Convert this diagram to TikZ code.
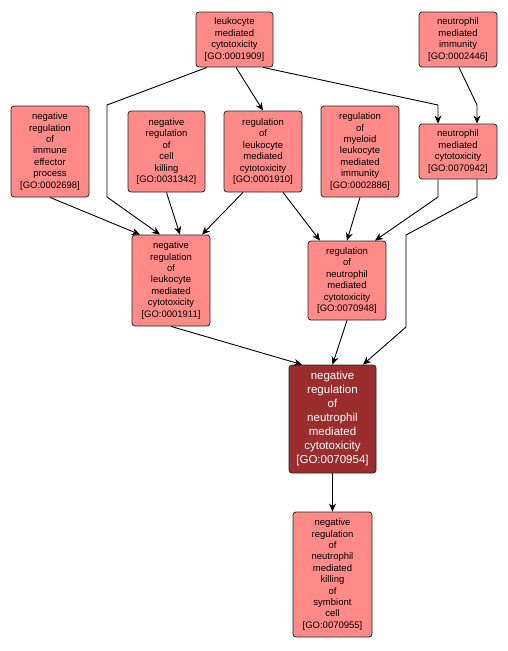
\documentclass[tikz,border=0pt]{standalone}
\usepackage{fontspec}
\setmainfont{Liberation Sans}
\usetikzlibrary{arrows.meta}
\definecolor{termpink}{RGB}{255,138,135}
\definecolor{termdark}{RGB}{155,45,45}
\begin{document}
\begin{tikzpicture}[x=1pt,y=-1pt,
	term/.style={draw=black!85,line width=0.8pt,fill=termpink,rounded corners=3pt,align=center,inner sep=1pt,font=\fontsize{9.5}{11.4}\selectfont},
	focus/.style={term,fill=termdark,text=white,font=\fontsize{11.5}{14}\selectfont},
	isa/.style={-{Stealth[length=8pt,width=7pt,inset=2.5pt]},black,line width=0.9pt}]
	\useasboundingbox (0,0) rectangle (507,651); %page
	\node[term,minimum width=77,minimum height=55] (t1909) at (234.5,39.5) {leukocyte\\mediated\\cytotoxicity\\{[}GO:0001909{]}}; %top middle
	\node[term,minimum width=78,minimum height=55] (t2446) at (458,39.5) {neutrophil\\mediated\\immunity\\{[}GO:0002446{]}}; %top right
	\node[term,minimum width=78,minimum height=91] (t2698) at (50,151.5) {negative\\regulation\\of\\immune\\effector\\process\\{[}GO:0002698{]}}; %second row
	\node[term,minimum width=77,minimum height=81] (t31342) at (166.5,151.5) {negative\\regulation\\of\\cell\\killing\\{[}GO:0031342{]}};
	\node[term,minimum width=78,minimum height=81] (t1910) at (263,151.5) {regulation\\of\\leukocyte\\mediated\\cytotoxicity\\{[}GO:0001910{]}};
	\node[term,minimum width=78,minimum height=91] (t2886) at (360,151.5) {regulation\\of\\myeloid\\leukocyte\\mediated\\immunity\\{[}GO:0002886{]}};
	\node[term,minimum width=78,minimum height=55] (t70942) at (458,151.5) {neutrophil\\mediated\\cytotoxicity\\{[}GO:0070942{]}};
	\node[term,minimum width=78,minimum height=91] (t1911) at (171,280.5) {negative\\regulation\\of\\leukocyte\\mediated\\cytotoxicity\\{[}GO:0001911{]}}; %third row
	\node[term,minimum width=78,minimum height=79] (t70948) at (347,280.5) {regulation\\of\\neutrophil\\mediated\\cytotoxicity\\{[}GO:0070948{]}};
	\node[focus,minimum width=87,minimum height=108] (t70954) at (332.5,419) {negative\\regulation\\of\\neutrophil\\mediated\\cytotoxicity\\{[}GO:0070954{]}}; %the term itself
	\node[term,minimum width=79,minimum height=125] (t70955) at (332.5,574.5) {negative\\regulation\\of\\neutrophil\\mediated\\killing\\of\\symbiont\\cell\\{[}GO:0070955{]}}; %child
	\draw[isa] ([xshift=-27.5]t1909.south) -- (107,105) -- (107,197) -- ([xshift=-11]t1911.north); %long left edge
	\draw[isa] ([xshift=1.5]t1909.south) -- (t1910.north);
	\draw[isa] ([xshift=28.5]t1909.south) -- (438,105) -- ([xshift=-20]t70942.north);
	\draw[isa] ([xshift=1]t2446.south) -- (477,105) -- ([xshift=19]t70942.north);
	\draw[isa] (t2698.south) -- ([xshift=-31]t1911.north);
	\draw[isa] (t31342.south) -- ([xshift=9]t1911.north);
	\draw[isa] ([xshift=-20]t1910.south) -- ([xshift=31]t1911.north);
	\draw[isa] ([xshift=20]t1910.south) -- ([xshift=-27]t70948.north);
	\draw[isa] (t2886.south) -- (t70948.north);
	\draw[isa] ([xshift=-20]t70942.south) -- (438,197) -- ([xshift=28]t70948.north);
	\draw[isa] ([xshift=19]t70942.south) -- (477,197) -- (406,235) -- (406,327) -- ([xshift=30.5]t70954.north); %long right edge
	\draw[isa] (t1911.south) -- ([xshift=-30.5]t70954.north);
	\draw[isa] (t70948.south) -- (t70954.north);
	\draw[isa] (t70954.south) -- (t70955.north);
\end{tikzpicture}
\end{document}
